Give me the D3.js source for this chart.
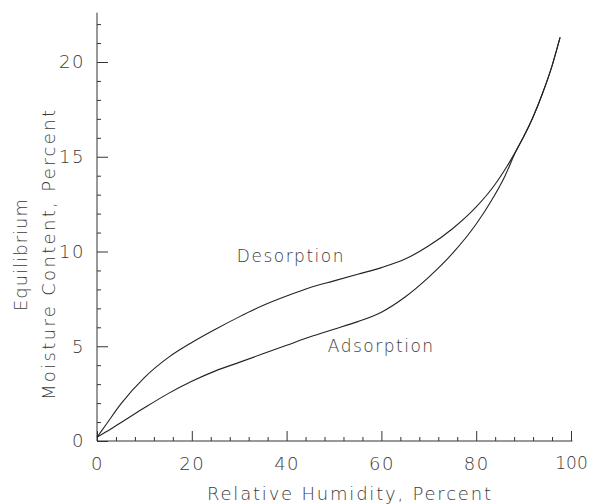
<!DOCTYPE html>
<html><head><meta charset="utf-8">
<script src="https://cdn.jsdelivr.net/npm/d3@7"></script>
<style>
html,body{margin:0;padding:0;background:#fff;}
text{font-family:"DejaVu Sans","Liberation Sans",sans-serif;font-weight:200;fill:#3a3a3a;}
</style></head>
<body><svg id="c" width="589" height="504"></svg>
<script>
// Data (relative humidity %, equilibrium moisture content %)
const desorption = [[0,0.2],[2,0.9],[5,1.95],[10,3.35],[15,4.4],[20,5.2],[25,5.9],[30,6.55],[35,7.15],[40,7.65],[45,8.1],[50,8.45],[55,8.8],[60,9.15],[65,9.6],[70,10.3],[75,11.2],[80,12.35],[84,13.55],[86.5,14.5],[88.5,15.35],[90,16.05],[92,17.1],[94,18.35],[96,19.8],[97.7,21.3]];
const adsorption = [[0,0.2],[3,0.65],[6.5,1.2],[10,1.75],[15,2.5],[20,3.15],[25,3.7],[30,4.15],[35,4.6],[40,5.05],[45,5.5],[50,5.9],[55,6.3],[60,6.8],[65,7.6],[70,8.65],[75,9.9],[80,11.45],[83,12.6],[86,13.95],[88.5,15.35],[90,16.05],[92,17.1],[94,18.35],[96,19.8],[97.7,21.3]];
const xMajor = [0,20,40,60,80,100];
const xMinor = [4,8,12,16,24,28,32,36,44,48,52,56,64,68,72,76,84,88,92,96];
const yMajor = [0,5,10,15,20];
const yMinor = [1,2,3,4,6,7,8,9,11,12,13,14,16,17,18,19,21,22];
const xLabels = ["0","20","40","60","80","100"];
const curveLabels = [{text:"Desorption",x:29.5,y:9.45},{text:"Adsorption",x:48.7,y:4.7}];

const svg = d3.select("#c");
const x = d3.scaleLinear().domain([0,100]).range([97,571]);
const y = d3.scaleLinear().domain([0,20]).range([441,62]);

// axes
const gx = svg.append("g").attr("transform",`translate(0,${y(0)})`);
gx.call(d3.axisBottom(x).tickValues(xMajor).tickSize(-10).tickPadding(16).tickFormat((d,i)=>xLabels[i]));
const gxm = svg.append("g").attr("transform",`translate(0,${y(0)})`);
gxm.call(d3.axisBottom(x).tickValues(xMinor).tickSize(-4).tickFormat(""));
gx.select(".domain").attr("d",`M${x(0)},0H${x(100.3)}`);
gxm.select(".domain").remove();

const gy = svg.append("g").attr("transform",`translate(${x(0)},0)`);
gy.call(d3.axisLeft(y).tickValues(yMajor).tickSize(-11).tickPadding(12));
const gym = svg.append("g").attr("transform",`translate(${x(0)},0)`);
gym.call(d3.axisLeft(y).tickValues(yMinor).tickSize(-4).tickFormat(""));
gy.select(".domain").attr("d",`M0,${y(0)}V${y(22.6)}`);
gym.select(".domain").remove();

svg.selectAll(".domain, .tick line").attr("stroke","#333").attr("stroke-width",1);
svg.selectAll(".tick text").attr("font-size",18).style("letter-spacing","1.5px").attr("fill","#3a3a3a")
  .attr("font-family","DejaVu Sans, sans-serif");
gx.selectAll(".tick text").filter(d=>d===100).attr("font-size",17).style("letter-spacing","0px");

// curves
const line = d3.line().x(d=>x(d[0])).y(d=>y(d[1])).curve(d3.curveMonotoneX);
[desorption,adsorption].forEach(s=>{
  svg.append("path").datum(s).attr("d",line).attr("fill","none").attr("stroke","#222").attr("stroke-width",1.1);
});

// curve labels
curveLabels.forEach(l=>{
  svg.append("text").attr("x",x(l.x)).attr("y",y(l.y)).attr("font-size",17)
    .style("letter-spacing","1.5px").text(l.text);
});

// axis titles
svg.append("text").attr("x",349).attr("y",500).attr("text-anchor","middle").attr("font-size",18)
  .attr("textLength",284).attr("lengthAdjust","spacing").text("Relative Humidity, Percent");
svg.append("text").attr("transform","translate(27,255) rotate(-90)").attr("text-anchor","middle").attr("font-size",18)
  .attr("textLength",112).attr("lengthAdjust","spacing").text("Equilibrium");
svg.append("text").attr("transform","translate(55,255) rotate(-90)").attr("text-anchor","middle").attr("font-size",18)
  .attr("textLength",290).attr("lengthAdjust","spacing").text("Moisture Content, Percent");
</script></body></html>
